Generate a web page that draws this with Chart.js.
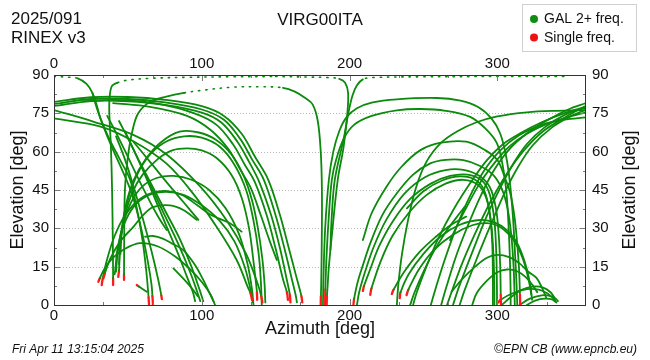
<!DOCTYPE html>
<html><head><meta charset="utf-8">
<script src="https://cdn.jsdelivr.net/npm/chart.js@4.4.1/dist/chart.umd.min.js"></script>
<style>html,body{margin:0;padding:0;background:#fff}</style>
</head><body>
<canvas id="c" width="650" height="360"></canvas>
<script>
// Tick labels
const azTicks = [0, 100, 200, 300];
const elTicks = [0, 15, 30, 45, 60, 75, 90];
const elGrid = [15, 30, 45, 60, 75];

// Satellite tracks: [azimuth, elevation, style]; style of segment starting at point:
// 0/omitted = GAL 2+ freq (solid), 1 = sparse samples (dotted), 2 = single freq (red)
const trkT1 = [[0,89.4,1],[8,89.2,1],[16,88.7],[22,86.5],[26,83],[29,78],[31.5,73],[37,65.5],[45,56.5],[51.5,49],[56,38],[60,25],[62.5,13],[64,3,2],[64.3,0]];
const trkT1b = [[26,83],[29,77],[33,70.5],[39,62],[46,53],[53,43],[59,30],[63.5,17],[66,8],[66.6,3.5,2],[67,0]];
const trkT1c = [[36,74],[41,68.5],[50,58],[60,46],[70,35],[76.3,29.3]];
const trkT1d = [[42,66],[48,57],[54,46],[60,34],[66,21],[70.5,10],[72.6,3.8,2],[73,2.3]];
const trkT2 = [[40,7.8,2],[40,10.5],[39.8,25],[39.3,45],[38.5,62],[37.5,74],[37.5,80],[39,85.5],[43,87,1],[50,88,1],[65,88.7,1],[90,89.1,1],[120,89.3,1],[150,89.4]];
const trkT3 = [[47.4,9.8,2],[47.4,12],[47.5,25],[48,45],[50,58],[53,68],[57,75],[65,79.5],[76,81.5],[88,83,1],[100,84,1],[120,85.2,1],[140,85.4,1],[155,85],[163,83.5],[170,81],[175,78.5],[178.5,72],[180.5,60],[181.3,45],[181.2,25],[180.8,8],[180.6,3.5,2],[180.5,0]];
const trkD2 = [[53.7,63.9],[65,56],[77,47.5],[88,40],[97.7,33.3]];
const trkD3 = [[44,72],[52,63],[60,53],[68,42],[76,31],[84,20],[90,11],[94,5],[95.5,1.5]];
const trkD4 = [[48,68],[57,57],[66,46],[75,35],[84,24],[92,13],[97,5],[99,1.5]];
const trkD5 = [[58,56],[67,46],[76,36],[85,26],[93,15],[98.5,6],[101,1.5]];
const trkN1 = [[0,79.5],[25,81.3],[50,81.4],[75,80.3],[100,77.8],[115,74],[127,67],[136,58],[145,49],[153,35],[159,22],[164,11],[167.4,3.5,2],[168,1]];
const trkN2 = [[0,78.6],[25,80.6],[50,80.6],[75,79.3],[100,76.5],[115,72.5],[126,65],[134,57],[142,49],[150,35],[156,22],[161,10],[163.5,4],[164.4,1]];
const trkN3 = [[0,77.8],[25,79.8],[50,79.7],[75,78.3],[100,75.3],[113,71.5],[124,64],[132,56],[139,48],[147,35],[153,22],[157.5,10],[159.6,4,2],[160,1]];
const trkN3b = [[20,79.8],[45,80.2],[70,78.8],[95,75],[110,70.5],[121,63],[129,55],[136,48],[144,35],[150,22],[155,10],[157.6,5,2],[158.3,2]];
const trkN3c = [[40,79],[65,77.5],[90,74],[106,68.5],[118,61],[126,53],[133,46],[140,35],[146,25],[150.8,17.6]];
const trkN4 = [[0,76.3],[27,71.7],[54,66.5],[76,59],[99,46.3],[117,33],[130,20],[138,8],[140.2,3.5,2],[141,1]];
const trkN5 = [[0,73],[31.5,69.8],[54,64],[76,55.4],[94,43.7],[110,30.6],[123.6,17.6],[131,7.2],[133,4.5,2],[134,2]];
const trkL1 = [[30,9.1,2],[31,10.5],[34,14],[40,18.5],[48,22],[58,24.2],[70,23],[82,19],[92,14],[100,9],[106,4],[109,0]];
const trkL2 = [[61.6,26.7],[67,27],[73.6,26],[80,24],[87.5,21.5],[95,16],[101,9.8],[105,5],[108,1.3]];
const trkL3 = [[33.4,10.4,2],[34.5,12.5],[38,18],[45,25],[53.7,30.6],[60,35],[67,38.3],[78.5,39],[87.5,37.2],[96.6,33.3]];
const trkL4 = [[32.3,7.8,2],[33,10.5],[36,18],[41,27],[48,35],[57,41],[67,44],[77,44.6],[87,43],[97,39],[107,35],[119,32],[127,28.7]];
const trkL5 = [[41,12],[41.5,14],[43,22],[47,31],[54,38.5],[64,43],[76,44.3],[88,43],[100,39],[112,33],[122,25],[129,15],[133,6],[134.5,1]];
const trkL6 = [[42,13],[43,20],[46,30],[52,40],[60,46.5],[70,49.8],[81,50.5],[93,49],[105,45],[116,38],[125,28],[131,16],[134,6],[135,0]];
const trkA61 = [[43.5,11,2],[44,13.5],[45,25],[48,35],[53,44],[60,51],[70,57],[80,60.5],[90,61.3],[100,60.5],[110,57.5],[120,51],[127,42],[132,30],[135,17],[137,7],[137.3,5,2],[137.5,2]];
const trkA66 = [[44,16],[45,25],[47.5,35],[52,45],[58,53],[66,59.5],[76,64],[88,66],[100,65.5],[112,62],[122,55],[130,45],[135,33],[138.5,20],[140,9],[140.6,0]];
const trkA68 = [[45,20],[46,30],[49,40],[54,49],[62,57],[72,63.5],[85,67.8],[98,67.5],[110,64.5],[120,59],[128,51],[134,41],[138,30],[141,18],[142.5,8],[143,1]];
const trkLs = [[56,7.8,2],[57.5,7.2],[62.8,5.2]];
const trkM1 = [[80.8,14.3],[88,10],[94,6],[97.5,3.3]];
const trkZ4 = [[150,89.4,1],[170,89.2,1],[185,89,1],[193,88.5],[197,87],[199,83],[198.5,75],[196,62],[192,49],[188.5,30],[186,15],[185,6],[184.7,3.5,2],[184.5,0]];
const trkZ5 = [[345,89.4,1],[300,89.4,1],[250,89.3,1],[215,89,1],[209,88.3],[205,86],[202,82],[199.5,76],[196,65],[190,49],[187.8,33],[187,21.5]];
const trkC4 = [[182,0],[182.3,10],[183.5,30],[186,49],[189,60],[193,68],[198,73.5],[205,77],[215,79.2],[232,80.5],[259,81],[275,80],[287,77.5],[296,73],[302,67],[306,58],[308.5,48],[310.5,35],[312,20],[313,8],[313.5,0]];
const trkC5 = [[183.5,0,2],[183.6,6],[184.5,20],[186,35],[188,49],[191,57],[196,65],[203,70.5],[215,74],[232,76.2],[248,76.7],[265,76],[281.6,73.6],[292,69],[299.6,63.4],[303.5,55],[306,45],[307.5,32],[308.5,18],[309,5],[309,0]];
const trkP64 = [[209,25.4],[215,36],[225,46.3],[235,54],[248,60.6],[262,63.5],[279,63.9],[292,60.5],[300,56.7],[305,50],[308.7,43.8],[311.5,35],[313.3,25],[314.7,14],[315.3,4,2],[315.5,0]];
const trkP57 = [[202.6,0,2],[203.1,2.5],[205.5,9],[209,15.5],[214,24.1],[222,35],[232,43.7],[243,51],[254.6,55.4],[265,56.8],[277,56.7],[288,54.5],[297,51],[303,45.5],[307,37.5],[309.5,27],[311,15],[311.6,5],[311.8,0]];
const trkP53 = [[205,0],[206.5,5],[210.5,13],[216.5,23],[225,33.5],[237,43.5],[251,50],[265,52.8],[277,52.9],[288,50.5],[295,46],[299,38],[301,27],[302,14],[302.3,4,2],[302.5,0]];
const trkP51 = [[209,5.5,2],[209.8,7.5],[214,14],[220,23],[229,32.5],[241,41.5],[255,47.5],[268,50.5],[280,51],[290,48.5],[295,43],[298,33],[299.3,20],[299.7,8],[299.8,0]];
const trkP49 = [[214,4,2],[214.8,6.5],[221,17],[229,27],[240,36],[252,43],[265,47.5],[277,49],[287,47],[293,41],[296,31],[297.5,18],[298,5],[298,0]];
const trkP51b = [[238.8,37.8],[250,44.5],[263,48.8],[275,50.3],[285,49],[291,45],[294.5,37],[296.5,25],[297,10],[297,0]];
const trkQ33 = [[234,2.7,2],[234.5,5],[240,12],[250,20],[262,27],[275,31.5],[288.6,33.3],[298,32.3],[306.5,29.3],[312,25.5],[316,21],[320,14],[322.5,7],[323.5,2]];
const trkQ32 = [[238.6,3.9,2],[239.8,6],[247,14],[257,21.5],[270,27.5],[283,31.2],[293,32],[301,30.8],[308,27.5],[314,22.5],[318.5,16],[321.5,9],[323,4]];
const trkQ38 = [[241,0],[244,5],[250,13],[257,21],[265,28.5],[272,34],[278,38.5]];
const trkQ35 = [[228.6,4.3,2],[229.8,6],[237,13],[247,20.5],[258,26.5],[269,31.5],[279,34.6]];
const trkQ20 = [[269,5.2],[276,10],[285,15],[293,18.5],[300,19.6],[308,18.7],[315,16.3],[321,13],[326.6,10.5],[330,7],[333,3]];
const trkQ14 = [[283,0],[286,4.6],[293,9.5],[300,12.8],[306.5,13.9],[313,13.3],[319,11],[324.6,7.2],[327,5]];
const trkS1 = [[303,0],[309,3],[316,5.8],[324,7.2],[331,6.8],[336,5],[339,2.5]];
const trkS2 = [[300.6,1,2],[302,2],[310,4.5],[320,6.2],[328,6],[334,4.5],[338,2.5],[340,1]];
const trkS3 = [[315,0],[322,2.5],[330,3.8],[336,3.5],[340,2.2],[341,1.5]];
const trkS4 = [[320,0],[326,1.8],[332,2.5],[337,2.2],[339.5,1.2]];
const trkR1 = [[243,0],[245.5,5],[252,15],[260,26],[270,37],[282,48],[293,56.7],[304,63],[315.5,67.2],[330,71.5],[345,75],[360,77.6]];
const trkR2 = [[266,0],[269,5],[276,16],[285,28],[295,40],[306,51],[318,60.5],[331,68],[346,73.5],[360,78]];
const trkR3 = [[270,0],[274,7],[283.6,21.5],[293,35],[303,47],[311,55.5],[320,63],[332,69.5],[346,74.5],[360,77.3]];
const trkR4 = [[274.5,0],[278,6],[286,18],[296,32],[305,44],[314,54],[324,62.5],[337,69.5],[350,74],[360,76.4]];
const trkR5 = [[232,0],[233,8],[235.5,20],[239.5,33],[245,46],[252,56],[262,63.5],[273,68],[286,71.5],[300,73.8],[320,75.4],[340,76],[360,76.2]];
const trkR6 = [[255,0],[258,6],[264,17],[272,30],[281,42],[291,52.5],[302,60.5],[315,66.5],[330,70.5],[345,72.5],[360,73.4]];
const trkR7 = [[262,0],[265.5,7],[272,19],[280,31],[289,43],[298,53],[309,61.5],[322,68],[336,73],[348,76.5],[360,79]];
const trkR8 = [[268,25.4],[278,37],[288,47.5],[298,55.5],[308,62],[320,67],[334,71],[348,73.5],[360,75.4]];

const tracks = [trkT1,trkT1b,trkT1c,trkT1d,trkT2,trkT3,trkD2,trkD3,trkD4,trkD5,
  trkN1,trkN2,trkN3,trkN3b,trkN3c,trkN4,trkN5,trkL1,trkL2,trkL3,trkL4,trkL5,trkL6,
  trkA61,trkA66,trkA68,trkLs,trkM1,trkZ4,trkZ5,trkC4,trkC5,
  trkP64,trkP57,trkP53,trkP51,trkP49,trkP51b,trkQ33,trkQ32,trkQ38,trkQ35,trkQ20,trkQ14,
  trkS1,trkS2,trkS3,trkS4,trkR1,trkR2,trkR3,trkR4,trkR5,trkR6,trkR7,trkR8];

const GREEN = '#0b8a0b', RED = '#ff1a1a';
const FONT = '"Liberation Sans", Arial, sans-serif';

const flagOf = c => c.chart.data.datasets[c.datasetIndex].data[c.p0DataIndex].f;
const datasets = tracks.map(t => ({
  data: t.map(p => ({x: p[0], y: p[1], f: p[2] || 0})),
  showLine: true, pointRadius: 0, borderColor: GREEN, borderWidth: 1.8,
  tension: 0.35, borderCapStyle: 'round', borderJoinStyle: 'round',
  segment: {
    borderColor: c => flagOf(c) === 2 ? RED : undefined,
    borderWidth: c => flagOf(c) === 2 ? 2.3 : (flagOf(c) === 1 ? 1.6 : undefined),
    borderDash: c => flagOf(c) === 1 ? [1.3, 6] : undefined
  }
}));

const deco = {
  id: 'deco',
  beforeDatasetsDraw(chart) {
    const {ctx, chartArea: a, scales: {y}} = chart;
    ctx.save();
    ctx.strokeStyle = '#b8b8b8'; ctx.lineWidth = 1; ctx.setLineDash([1, 2]);
    elGrid.forEach(v => {
      const py = Math.round(y.getPixelForValue(v)) + 0.5;
      ctx.beginPath(); ctx.moveTo(a.left, py); ctx.lineTo(a.right, py); ctx.stroke();
    });
    ctx.restore();
  },
  afterDatasetsDraw(chart) {
    const {ctx, chartArea: a, scales: {x, y}} = chart;
    ctx.save();
    ctx.strokeStyle = '#7a7a7a'; ctx.lineWidth = 1;
    for (let k = 1; k <= 10; k++) {
      const v = k * 100 / 3; const major = k % 3 === 0;
      const px = Math.round(x.getPixelForValue(v)) + 0.5; const L = major ? 6 : 3;
      ctx.beginPath(); ctx.moveTo(px, a.bottom); ctx.lineTo(px, a.bottom - L);
      ctx.moveTo(px, a.top); ctx.lineTo(px, a.top + L); ctx.stroke();
    }
    for (let k = 1; k < 12; k++) {
      const v = k * 7.5; const major = k % 2 === 0;
      const py = Math.round(y.getPixelForValue(v)) + 0.5; const L = major ? 6 : 3;
      ctx.beginPath(); ctx.moveTo(a.left, py); ctx.lineTo(a.left + L, py);
      ctx.moveTo(a.right, py); ctx.lineTo(a.right - L, py); ctx.stroke();
    }
    ctx.strokeStyle = '#333'; ctx.lineWidth = 1;
    ctx.strokeRect(Math.round(a.left) + 0.5, Math.round(a.top) + 0.5, Math.round(a.right - a.left) - 1, Math.round(a.bottom - a.top));
    ctx.restore();
  },
  afterDraw(chart) {
    const {ctx, chartArea: a} = chart;
    ctx.save();
    ctx.fillStyle = '#111';
    ctx.font = '17px ' + FONT; ctx.textBaseline = 'alphabetic';
    ctx.textAlign = 'left';
    ctx.fillText('2025/091', 11, 24);
    ctx.fillText('RINEX v3', 11, 43);
    ctx.textAlign = 'center';
    ctx.fillText('VIRG00ITA', 320, 25);
    ctx.font = '18px ' + FONT;
    ctx.fillText('Azimuth [deg]', (a.left + a.right) / 2, 334);
    ctx.textBaseline = 'middle';
    ctx.save(); ctx.translate(18, 190); ctx.rotate(-Math.PI / 2); ctx.fillText('Elevation [deg]', 0, 0); ctx.restore();
    ctx.save(); ctx.translate(630, 190); ctx.rotate(-Math.PI / 2); ctx.fillText('Elevation [deg]', 0, 0); ctx.restore();
    ctx.fillStyle = '#fff'; ctx.strokeStyle = '#d0d0d0'; ctx.lineWidth = 1;
    ctx.fillRect(522.5, 4.5, 114, 47); ctx.strokeRect(522.5, 4.5, 114, 47);
    ctx.fillStyle = '#128c12'; ctx.beginPath(); ctx.arc(534, 19, 4, 0, Math.PI * 2); ctx.fill();
    ctx.fillStyle = '#ee1111'; ctx.beginPath(); ctx.arc(534, 37.5, 4, 0, Math.PI * 2); ctx.fill();
    ctx.fillStyle = '#111'; ctx.font = '14px ' + FONT; ctx.textAlign = 'left';
    ctx.fillText('GAL 2+ freq.', 544, 19);
    ctx.fillText('Single freq.', 544, 38);
    ctx.font = 'italic 12px ' + FONT; ctx.textBaseline = 'alphabetic';
    ctx.fillText('Fri Apr 11 13:15:04 2025', 12, 353);
    ctx.textAlign = 'right';
    ctx.fillText('\u00A9EPN CB (www.epncb.eu)', 637, 353);
    ctx.restore();
  }
};

const tickFont = {family: FONT, size: 15};
const azCb = v => azTicks.includes(v) ? String(v) : '';
const elCb = v => elTicks.includes(v) ? String(v) : '';

new Chart(document.getElementById('c'), {
  type: 'scatter',
  data: {datasets},
  plugins: [deco],
  options: {
    responsive: false, animation: false, events: [],
    layout: {padding: 0},
    plugins: {legend: {display: false}, tooltip: {enabled: false}},
    scales: {
      x: {type: 'linear', position: 'bottom', min: 0, max: 360,
        grid: {display: false, drawTicks: false}, border: {display: false},
        ticks: {stepSize: 100, callback: azCb, font: tickFont, color: '#111', padding: 2, maxRotation: 0, autoSkip: false},
        afterFit: s => { s.height = 55; }},
      x2: {type: 'linear', position: 'top', min: 0, max: 360,
        grid: {display: false, drawTicks: false}, border: {display: false},
        ticks: {stepSize: 100, callback: azCb, font: tickFont, color: '#111', padding: 2, maxRotation: 0, autoSkip: false},
        afterFit: s => { s.height = 75; }},
      y: {type: 'linear', position: 'left', min: 0, max: 90,
        grid: {display: false, drawTicks: false}, border: {display: false},
        ticks: {stepSize: 15, callback: elCb, font: tickFont, color: '#111', padding: 5, autoSkip: false},
        afterFit: s => { s.width = 54; }},
      y2: {type: 'linear', position: 'right', min: 0, max: 90,
        grid: {display: false, drawTicks: false}, border: {display: false},
        ticks: {stepSize: 15, callback: elCb, font: tickFont, color: '#111', padding: 6, autoSkip: false},
        afterFit: s => { s.width = 64; }}
    }
  }
});
</script>
</body></html>
